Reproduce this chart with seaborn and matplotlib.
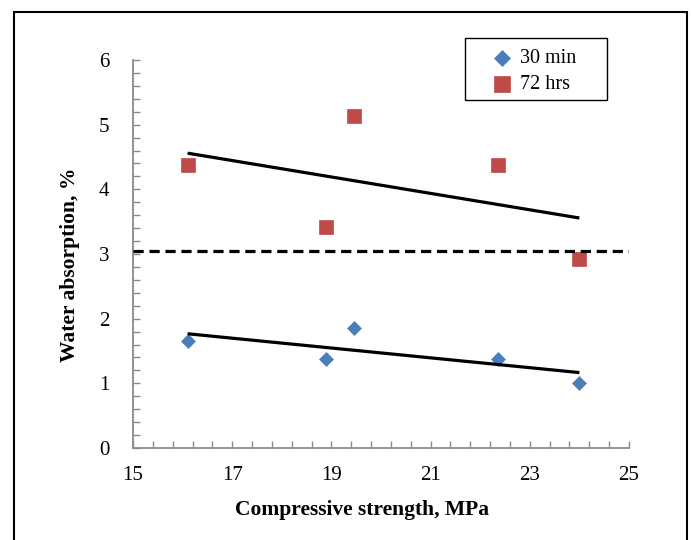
import numpy as np
import pandas as pd
import matplotlib
matplotlib.use("Agg")
import matplotlib.pyplot as plt
import seaborn as sns
from matplotlib.patches import Rectangle
from matplotlib.ticker import MultipleLocator

# ---- data ----
strength = [16.1, 18.9, 19.45, 22.35, 24.0]
absorb_30min = [1.66, 1.38, 1.86, 1.38, 1.01]
absorb_72hrs = [4.37, 3.41, 5.13, 4.38, 2.93]
series_names = ["30 min", "72 hrs"]
reference_level = 3.05
x_ticks = [15, 17, 19, 21, 23, 25]
y_ticks = [0, 1, 2, 3, 4, 5, 6]

df = pd.DataFrame({
    "strength": strength * 2,
    "absorption": absorb_30min + absorb_72hrs,
    "series": [series_names[0]] * len(strength) + [series_names[1]] * len(strength),
})

sns.set_theme(style="white")
plt.rcParams["font.family"] = ["Liberation Serif", "DejaVu Serif"]
plt.rcParams["text.color"] = "black"
plt.rcParams["axes.labelcolor"] = "black"
plt.rcParams["xtick.color"] = "black"
plt.rcParams["ytick.color"] = "black"

fig = plt.figure(figsize=(6.91, 5.40), dpi=100)
ax = fig.add_axes([133 / 691, 1 - 448 / 540, (629 - 133) / 691, (448 - 60) / 540])

palette = {"30 min": "#4a7ebb", "72 hrs": "#be4b48"}
markers = {"30 min": "D", "72 hrs": "s"}
sizes = {"30 min": 50, "72 hrs": 90}
for name in series_names:
    sub = df[df["series"] == name]
    sns.scatterplot(data=sub, x="strength", y="absorption", ax=ax,
                    color=palette[name], marker=markers[name], s=sizes[name],
                    edgecolor=palette[name], linewidth=0.5, label=name, zorder=3)
    sns.regplot(data=sub, x="strength", y="absorption", ax=ax, scatter=False,
                ci=None, truncate=True, color="black",
                line_kws={"linewidth": 2.3, "zorder": 4, "solid_capstyle": "butt"})

ax.axhline(reference_level, color="black", linestyle=(0, (3.2, 1.8)), linewidth=2.3, zorder=4)

ax.set_xlim(15, 25)
ax.set_ylim(0, 6)
ax.set_xticks(x_ticks)
ax.set_yticks(y_ticks)
ax.xaxis.set_minor_locator(MultipleLocator(0.4, offset=0.2))
ax.yaxis.set_minor_locator(MultipleLocator(0.2))

spine_color = "#8a8a8a"
for side in ["top", "right"]:
    ax.spines[side].set_visible(False)
for side in ["left", "bottom"]:
    ax.spines[side].set_color(spine_color)
    ax.spines[side].set_linewidth(1.3)

ax.tick_params(axis="both", which="both", direction="in", color=spine_color,
               width=1.0, bottom=True, left=True, top=False, right=False,
               labelcolor="black")
ax.tick_params(axis="both", which="major", length=5, labelsize=15)
ax.tick_params(axis="both", which="minor", length=5)
ax.tick_params(axis="y", which="major", pad=17)
ax.tick_params(axis="x", which="major", pad=13)

ax.set_xlabel("Compressive strength, MPa", fontsize=15.5, fontweight="bold", color="black")
ax.set_ylabel("Water absorption, %", fontsize=15.5, fontweight="bold", color="black")
ax.xaxis.set_label_coords(0.462, -0.134)
ax.yaxis.set_label_coords(-0.107, 0.472)

handles, labels = ax.get_legend_handles_labels()
if ax.get_legend():
    ax.get_legend().remove()
leg = fig.legend(handles[:2], labels[:2], loc="upper left",
                 bbox_to_anchor=(491.5 / 691, 1 - 49 / 540), fontsize=14.5,
                 frameon=False, borderpad=0, handlelength=1.0, markerscale=1.15,
                 handletextpad=0.4, labelspacing=0.35, borderaxespad=0)
for t in leg.get_texts():
    t.set_color("black")

# legend frame drawn as its own rectangle
fig.patches.append(Rectangle((465 / 691, 1 - 100 / 540), (607 - 465) / 691, (100 - 38) / 540,
                             transform=fig.transFigure, fill=False,
                             edgecolor="black", linewidth=1.0, zorder=10))
# outer figure frame
fig.patches.append(Rectangle((14 / 691, -0.01), (687 - 14) / 691, 1 - 12 / 540 + 0.01,
                             transform=fig.transFigure, fill=False,
                             edgecolor="black", linewidth=1.5, zorder=10))

fig.savefig("out.png", dpi=100, facecolor="white")
